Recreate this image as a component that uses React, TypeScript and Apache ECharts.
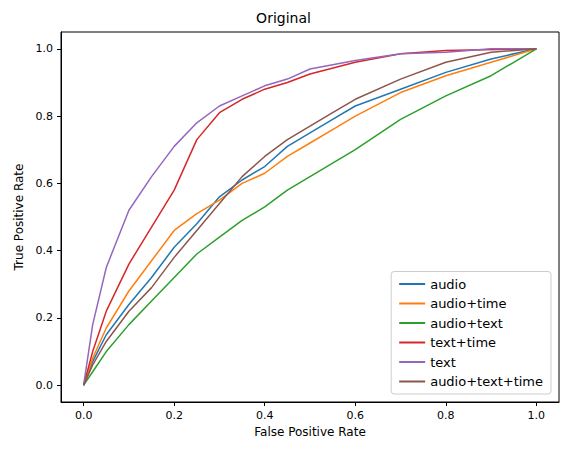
import React, { useEffect, useRef } from "react";
import * as echarts from "echarts";

const names = ["audio", "audio+time", "audio+text", "text+time", "text", "audio+text+time"];
const colors = ["#1f77b4", "#ff7f0e", "#2ca02c", "#d62728", "#9467bd", "#8c564b"];
const xTicks = [0, 0.2, 0.4, 0.6, 0.8, 1.0];

const audio = [[0,0],[0.02,0.07],[0.05,0.15],[0.1,0.24],[0.15,0.32],[0.2,0.41],[0.25,0.48],[0.3,0.56],[0.35,0.61],[0.4,0.65],[0.45,0.71],[0.5,0.75],[0.55,0.79],[0.6,0.83],[0.7,0.88],[0.8,0.93],[0.9,0.97],[1,1]];
const audioTime = [[0,0],[0.02,0.08],[0.05,0.17],[0.1,0.28],[0.15,0.37],[0.2,0.46],[0.25,0.51],[0.3,0.55],[0.35,0.6],[0.4,0.63],[0.45,0.68],[0.5,0.72],[0.55,0.76],[0.6,0.8],[0.7,0.87],[0.8,0.92],[0.9,0.96],[1,1]];
const audioText = [[0,0],[0.02,0.04],[0.05,0.1],[0.1,0.18],[0.15,0.25],[0.2,0.32],[0.25,0.39],[0.3,0.44],[0.35,0.49],[0.4,0.53],[0.45,0.58],[0.5,0.62],[0.55,0.66],[0.6,0.7],[0.7,0.79],[0.8,0.86],[0.9,0.92],[0.95,0.96],[1,1]];
const textTime = [[0,0],[0.02,0.1],[0.05,0.22],[0.1,0.36],[0.15,0.47],[0.2,0.58],[0.25,0.73],[0.3,0.81],[0.35,0.85],[0.4,0.88],[0.45,0.9],[0.5,0.925],[0.6,0.96],[0.7,0.985],[0.8,0.995],[1,1]];
const text = [[0,0],[0.02,0.18],[0.05,0.35],[0.1,0.52],[0.15,0.62],[0.2,0.71],[0.25,0.78],[0.3,0.83],[0.35,0.86],[0.4,0.89],[0.45,0.91],[0.5,0.94],[0.6,0.965],[0.7,0.985],[0.8,0.99],[0.9,1],[1,1]];
const audioTextTime = [[0,0],[0.02,0.06],[0.05,0.13],[0.1,0.22],[0.15,0.29],[0.2,0.38],[0.25,0.46],[0.3,0.54],[0.35,0.62],[0.4,0.68],[0.45,0.73],[0.5,0.77],[0.55,0.81],[0.6,0.85],[0.7,0.91],[0.8,0.96],[0.9,0.99],[1,1]];
const allData = [audio, audioTime, audioText, textTime, text, audioTextTime];

export default function App() {
  const ref = useRef<HTMLDivElement>(null);
  useEffect(() => {
    const chart = echarts.init(ref.current!, null, { renderer: "svg" });
    const axisCommon = {
      min: -0.05, max: 1.05, interval: 0.05,
      axisLine: { show: true, onZero: false, lineStyle: { color: "#000" } },
      axisTick: { show: true, length: 4, lineStyle: { color: "#000" }, customValues: xTicks } as any,
      axisLabel: { color: "#000", fontSize: 11, customValues: xTicks, formatter: (v: number) => v.toFixed(1) } as any,
      splitLine: { show: false },
      nameLocation: "middle" as const,
      nameTextStyle: { color: "#000", fontSize: 12 },
    };
    chart.setOption({
      animation: false,
      textStyle: { fontFamily: "DejaVu Sans" },
      title: { text: "Original", left: "center", top: 6, textStyle: { fontSize: 14, fontWeight: "normal", color: "#000" } },
      grid: { left: 61, right: 8, top: 32, bottom: 53, show: true, borderColor: "#000", borderWidth: 1 },
      xAxis: { type: "value", name: "False Positive Rate", nameGap: 22, ...axisCommon },
      yAxis: { type: "value", name: "True Positive Rate", nameGap: 36, ...axisCommon },
      legend: {
        orient: "vertical", right: 16, bottom: 61, data: names,
        backgroundColor: "#fff", borderColor: "#ccc", borderWidth: 1, borderRadius: 3,
        padding: [6, 8], itemGap: 6.5, itemWidth: 26, itemHeight: 2, icon: "rect",
        textStyle: { fontSize: 13, color: "#000" },
      },
      series: names.map((n, i) => ({
        name: n, type: "line", data: allData[i], showSymbol: false, symbol: "none",
        lineStyle: { width: 1.5, color: colors[i] }, itemStyle: { color: colors[i] },
      })),
    });
    return () => chart.dispose();
  }, []);
  return <div ref={ref} style={{ width: 567, height: 455, position: "absolute", left: 0, top: 0 }} />;
}
